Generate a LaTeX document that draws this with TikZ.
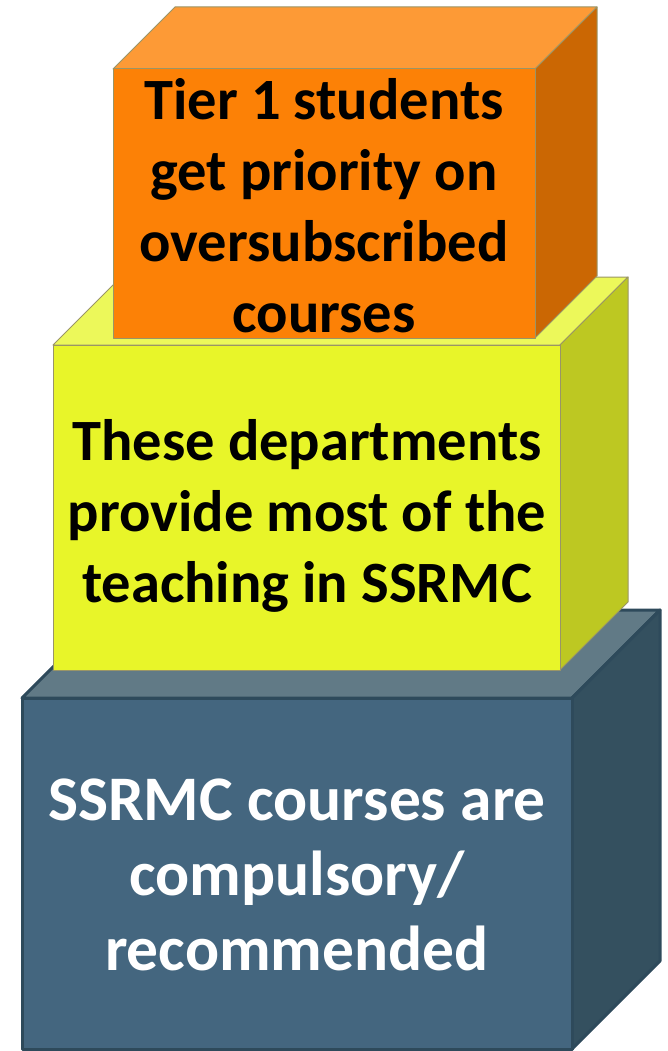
\documentclass[tikz,border=0pt]{standalone}
\usepackage{fontspec}
\setmainfont{Carlito}
\definecolor{orF}{HTML}{FC8106}
\definecolor{orT}{HTML}{FD9A36}
\definecolor{orS}{HTML}{CB6703}
\definecolor{yeF}{HTML}{E8F529}
\definecolor{yeT}{HTML}{ECF85A}
\definecolor{yeS}{HTML}{BDC822}
\definecolor{blF}{HTML}{44667F}
\definecolor{blT}{HTML}{617A86}
\definecolor{blS}{HTML}{34505F}
\definecolor{thinline}{HTML}{9A9566}
\definecolor{blline}{HTML}{2E4A5B}
\tikzset{
  thinedge/.style={draw=thinline, line width=1pt, line join=round},
  blueedge/.style={draw=blline, line width=3pt, line join=round},
  tiertext/.style={align=center, font=\fontsize{58.5}{71}\selectfont\bfseries, inner sep=0pt},
  bigtext/.style={align=center, font=\fontsize{63.5}{75}\selectfont\bfseries, inner sep=0pt}
}
\begin{document}
\begin{tikzpicture}[x=1pt,y=-1pt]
\useasboundingbox (0,0) rectangle (667,1051);
% ---- blue box (bottom) ----
\def\d{88}
\filldraw[blueedge, fill=blT] (22,698) -- (22+\d,698-\d) -- (572+\d,698-\d) -- (572,698) -- cycle;
\filldraw[blueedge, fill=blS] (572,698) -- (572+\d,698-\d) -- (572+\d,1049-\d) -- (572,1049) -- cycle;
\filldraw[blueedge, fill=blF] (22,698) rectangle (572,1049);
\node[bigtext, text=white] (bluetext) at (297,875) {SSRMC courses are\\compulsory/\\recommended};
% ---- yellow box (middle) ----
\def\d{68}
\filldraw[thinedge, fill=yeT] (53,345) -- (53+\d,345-\d) -- (560+\d,345-\d) -- (560,345) -- cycle;
\filldraw[thinedge, fill=yeS] (560,345) -- (560+\d,345-\d) -- (560+\d,670-\d) -- (560,670) -- cycle;
\filldraw[thinedge, fill=yeF] (53,345) rectangle (560,670);
\node[tiertext, text=black] (yellowtext) at (307,516) {These departments\\provide most of the\\teaching in SSRMC};
% ---- orange box (top) ----
\def\d{62}
\filldraw[thinedge, fill=orT] (113,69) -- (113+\d,69-\d) -- (535+\d,69-\d) -- (535,69) -- cycle;
\filldraw[thinedge, fill=orS] (535,69) -- (535+\d,69-\d) -- (535+\d,338-\d) -- (535,338) -- cycle;
\filldraw[thinedge, fill=orF] (113,69) rectangle (535,338);
\node[tiertext, text=black] (orangetext) at (324,206) {Tier 1 students\\get priority on\\oversubscribed\\courses};
\end{tikzpicture}
\end{document}
